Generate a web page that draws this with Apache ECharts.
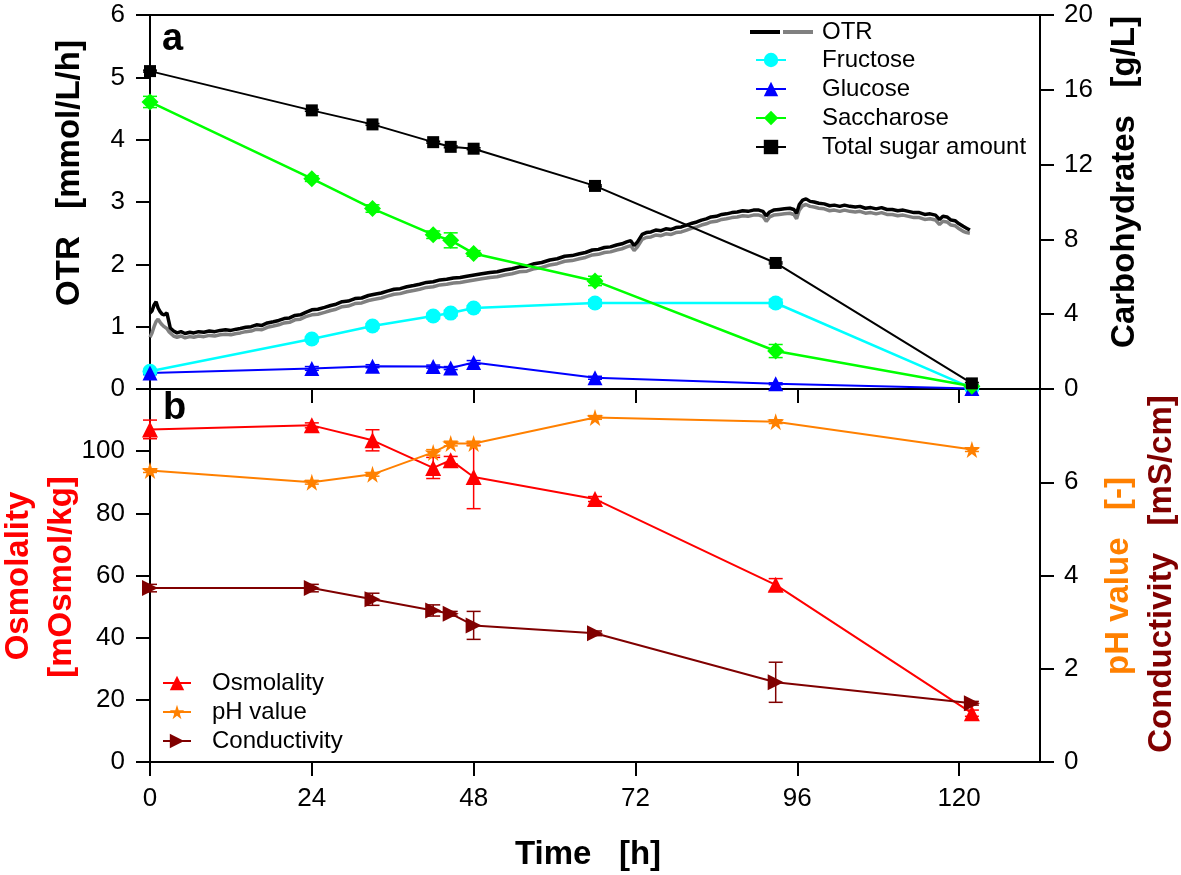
<!DOCTYPE html>
<html>
<head>
<meta charset="utf-8">
<script src="https://cdn.jsdelivr.net/npm/echarts@6/dist/echarts.min.js"></script>
<style>
html,body{margin:0;padding:0;background:#fff;}
#chart{width:1181px;height:875px;}
</style>
</head>
<body>
<div id="chart"></div>
<script>
// ---------- data ----------
const sampleTime = [0, 24, 33, 42, 44.6, 48, 66, 92.8, 121.9];

const fructose        = [0.95, 2.67, 3.37, 3.90, 4.06, 4.33, 4.60, 4.60, 0.05];
const fructoseErr     = [0.10, 0.12, 0.12, 0.15, 0.15, 0.12, 0.18, 0.20, 0.05];
const glucose         = [0.85, 1.10, 1.22, 1.20, 1.12, 1.42, 0.60, 0.28, 0.03];
const glucoseErr      = [0.08, 0.10, 0.08, 0.08, 0.08, 0.10, 0.08, 0.05, 0.02];
const saccharose      = [15.35, 11.25, 9.65, 8.25, 7.95, 7.25, 5.78, 2.03, 0.15];
const saccharoseErr   = [0.30, 0.15, 0.20, 0.20, 0.40, 0.15, 0.25, 0.35, 0.05];
const totalSugar      = [17.0, 14.9, 14.15, 13.2, 12.95, 12.85, 10.86, 6.74, 0.30];
const totalSugarErr   = [0.05, 0.05, 0.05, 0.05, 0.05, 0.05, 0.05, 0.05, 0.05];

const osmolality      = [107, 108.3, 103.5, 94.6, 97.1, 91.7, 84.6, 57.0, 15.7];
const osmolalityErr   = [3.0, 0.8, 3.4, 3.4, 1.2, 10.2, 0.8, 2.0, 1.0];
const phValue         = [6.25, 6.00, 6.17, 6.64, 6.83, 6.83, 7.39, 7.30, 6.70];
const phValueErr      = [0.04, 0.04, 0.04, 0.06, 0.05, 0.05, 0.04, 0.04, 0.04];
const conductivity    = [3.73, 3.73, 3.49, 3.25, 3.18, 2.93, 2.76, 1.71, 1.26];
const conductivityErr = [0.08, 0.08, 0.13, 0.12, 0.05, 0.30, 0.05, 0.43, 0.04];

// OTR online signal [time h, mmol/L/h]
const otrBlack = [[0,1.22],[0.3,1.25],[0.6,1.35],[0.9,1.40],[1.2,1.30],[1.5,1.24],[1.8,1.20],[2.1,1.19],[2.5,1.22],[2.8,1.08],[3.0,0.98],[3.5,0.93],[4.0,0.90],[4.6,0.92],[5.2,0.89],[5.9,0.91],[6.5,0.90],[7.2,0.92],[8.0,0.91],[8.8,0.93],[9.6,0.92],[10.4,0.94],[11.2,0.95],[12.0,0.94],[12.8,0.96],[13.4,0.97],[14.2,0.99],[15.0,1.00],[15.8,1.03],[16.6,1.02],[17.4,1.06],[18.3,1.08],[19.1,1.10],[19.9,1.13],[20.7,1.14],[21.5,1.18],[22.3,1.19],[23.1,1.23],[24.0,1.27],[24.9,1.28],[25.9,1.31],[26.8,1.34],[27.6,1.36],[28.5,1.40],[29.4,1.41],[30.4,1.45],[31.4,1.46],[32.4,1.50],[33.3,1.52],[34.3,1.54],[35.2,1.57],[36.2,1.60],[37.1,1.61],[38.1,1.64],[39.1,1.66],[40.0,1.68],[41.0,1.71],[42.0,1.72],[43.0,1.75],[44.0,1.76],[45.0,1.78],[46.0,1.79],[47.0,1.81],[48.1,1.83],[49.2,1.85],[50.4,1.87],[51.5,1.88],[52.6,1.91],[53.7,1.93],[54.8,1.96],[55.9,1.97],[57.0,2.01],[58.1,2.03],[59.3,2.07],[60.4,2.09],[61.5,2.13],[62.6,2.14],[63.7,2.17],[64.6,2.19],[65.6,2.23],[66.5,2.24],[67.4,2.27],[68.3,2.28],[69.2,2.31],[70.0,2.33],[70.7,2.36],[71.3,2.38],[71.8,2.30],[72.3,2.36],[73.0,2.48],[73.6,2.51],[74.3,2.52],[75.0,2.55],[75.8,2.54],[76.5,2.57],[77.3,2.56],[78.0,2.59],[78.8,2.60],[79.6,2.63],[80.4,2.66],[81.1,2.68],[81.8,2.71],[82.5,2.73],[83.2,2.76],[84.0,2.77],[84.8,2.80],[85.5,2.81],[86.3,2.83],[87.1,2.84],[87.9,2.86],[88.7,2.85],[89.5,2.87],[90.3,2.87],[90.9,2.85],[91.4,2.78],[91.9,2.84],[92.5,2.87],[93.3,2.88],[94.1,2.89],[94.9,2.90],[95.5,2.88],[95.9,2.82],[96.3,2.96],[96.8,3.03],[97.3,3.05],[97.9,3.01],[98.5,3.00],[99.2,2.98],[100.0,2.97],[100.8,2.94],[101.5,2.95],[102.3,2.93],[103.0,2.95],[103.8,2.93],[104.6,2.92],[105.3,2.93],[106.1,2.90],[106.9,2.91],[107.7,2.89],[108.5,2.91],[109.3,2.88],[110.1,2.88],[110.9,2.86],[111.7,2.87],[112.5,2.85],[113.3,2.83],[114.1,2.83],[114.9,2.80],[115.7,2.81],[116.5,2.79],[117.1,2.72],[117.6,2.77],[118.2,2.76],[118.8,2.71],[119.4,2.70],[120.0,2.65],[120.6,2.61],[121.1,2.58],[121.6,2.55]];
const otrGray  = [[0,0.83],[0.3,0.90],[0.6,1.00],[0.9,1.08],[1.2,1.12],[1.5,1.07],[1.8,1.03],[2.1,1.00],[2.5,0.97],[2.8,0.92],[3.0,0.89],[3.5,0.85],[4.0,0.83],[4.6,0.85],[5.2,0.82],[5.9,0.84],[6.5,0.83],[7.2,0.85],[8.0,0.84],[8.8,0.86],[9.6,0.85],[10.4,0.87],[11.2,0.88],[12.0,0.87],[12.8,0.89],[13.4,0.90],[14.2,0.92],[15.0,0.93],[15.8,0.96],[16.6,0.95],[17.4,0.99],[18.3,1.01],[19.1,1.03],[19.9,1.06],[20.7,1.07],[21.5,1.11],[22.3,1.12],[23.1,1.16],[24.0,1.19],[24.9,1.20],[25.9,1.23],[26.8,1.26],[27.6,1.28],[28.5,1.32],[29.4,1.33],[30.4,1.37],[31.4,1.38],[32.4,1.42],[33.3,1.44],[34.3,1.46],[35.2,1.49],[36.2,1.52],[37.1,1.53],[38.1,1.56],[39.1,1.58],[40.0,1.60],[41.0,1.63],[42.0,1.64],[43.0,1.67],[44.0,1.68],[45.0,1.70],[46.0,1.71],[47.0,1.73],[48.1,1.75],[49.2,1.77],[50.4,1.79],[51.5,1.80],[52.6,1.83],[53.7,1.85],[54.8,1.88],[55.9,1.89],[57.0,1.93],[58.1,1.95],[59.3,1.99],[60.4,2.01],[61.5,2.05],[62.6,2.06],[63.7,2.09],[64.6,2.11],[65.6,2.15],[66.5,2.16],[67.4,2.19],[68.3,2.20],[69.2,2.23],[70.0,2.25],[70.7,2.28],[71.3,2.30],[71.8,2.22],[72.3,2.28],[73.0,2.40],[73.6,2.43],[74.3,2.44],[75.0,2.47],[75.8,2.46],[76.5,2.49],[77.3,2.48],[78.0,2.51],[78.8,2.52],[79.6,2.55],[80.4,2.58],[81.1,2.60],[81.8,2.63],[82.5,2.65],[83.2,2.68],[84.0,2.69],[84.8,2.72],[85.5,2.73],[86.3,2.75],[87.1,2.76],[87.9,2.78],[88.7,2.77],[89.5,2.79],[90.3,2.79],[90.9,2.77],[91.4,2.69],[91.9,2.76],[92.5,2.79],[93.3,2.80],[94.1,2.81],[94.9,2.82],[95.5,2.80],[95.9,2.73],[96.3,2.87],[96.8,2.94],[97.3,2.96],[97.9,2.93],[98.5,2.92],[99.2,2.90],[100.0,2.89],[100.8,2.86],[101.5,2.87],[102.3,2.85],[103.0,2.87],[103.8,2.85],[104.6,2.84],[105.3,2.85],[106.1,2.82],[106.9,2.83],[107.7,2.81],[108.5,2.83],[109.3,2.80],[110.1,2.80],[110.9,2.78],[111.7,2.79],[112.5,2.77],[113.3,2.75],[114.1,2.75],[114.9,2.72],[115.7,2.73],[116.5,2.71],[117.1,2.64],[117.6,2.69],[118.2,2.68],[118.8,2.63],[119.4,2.62],[120.0,2.57],[120.6,2.53],[121.1,2.51],[121.6,2.50]];

const xTicks      = [0, 24, 48, 72, 96, 120];
const otrTicks    = [0, 1, 2, 3, 4, 5, 6];
const carbTicks   = [0, 4, 8, 12, 16, 20];
const osmoTicks   = [0, 20, 40, 60, 80, 100];
const rightBTicks = [0, 2, 4, 6];

// ---------- chart ----------
const FONT = '"Liberation Sans", Arial, sans-serif';
const chart = echarts.init(document.getElementById('chart'), null, {renderer: 'canvas'});

const STAR = 'path://M50,0 L61.2,34.5 L97.6,34.5 L68.2,55.9 L79.4,90.5 L50,69.1 L20.6,90.5 L31.8,55.9 L2.4,34.5 L38.8,34.5 Z';

function pairs(vals) { return sampleTime.map((t, i) => [t, vals[i]]); }

function errSeries(vals, errs, color, xi, yi) {
  return {
    type: 'custom', xAxisIndex: xi, yAxisIndex: yi, silent: true, z: 3,
    data: sampleTime.map((t, i) => [t, vals[i] - errs[i], vals[i] + errs[i]]),
    encode: {x: 0, y: [1, 2]},
    renderItem(params, api) {
      const x = api.value(0);
      const a = api.coord([x, api.value(1)]);
      const b = api.coord([x, api.value(2)]);
      const w = 7;
      const st = {stroke: color, lineWidth: 1.5};
      return {type: 'group', children: [
        {type: 'line', shape: {x1: a[0], y1: a[1], x2: b[0], y2: b[1]}, style: st},
        {type: 'line', shape: {x1: a[0] - w, y1: a[1], x2: a[0] + w, y2: a[1]}, style: st},
        {type: 'line', shape: {x1: b[0] - w, y1: b[1], x2: b[0] + w, y2: b[1]}, style: st}
      ]};
    }
  };
}

function pointSeries(name, vals, color, symbol, size, xi, yi, lw, extra) {
  return Object.assign({
    name, type: 'line', xAxisIndex: xi, yAxisIndex: yi, data: pairs(vals),
    symbol, symbolSize: size, showSymbol: true, z: 4,
    lineStyle: {color, width: lw}, itemStyle: {color, borderWidth: 0},
    emphasis: {disabled: true}, animation: false
  }, extra || {});
}

const axisLineStyle = {color: '#000', width: 2};
const tickCommon = {show: true, inside: false, length: 14, lineStyle: {color: '#000', width: 2}};
const labelCommon = {color: '#000', fontFamily: FONT, fontSize: 26};

function xAxisDef(grid, showLabels) {
  return {
    type: 'value', gridIndex: grid, min: 0, max: 132, interval: 24,
    axisLine: {show: true, onZero: false, lineStyle: axisLineStyle},
    axisTick: Object.assign({customValues: xTicks}, tickCommon),
    axisLabel: Object.assign({show: showLabels, margin: 24, customValues: xTicks}, labelCommon),
    splitLine: {show: false}
  };
}
function yAxisDef(grid, pos, max, interval, ticks) {
  return {
    type: 'value', gridIndex: grid, position: pos, min: 0, max, interval,
    axisLine: {show: true, onZero: false, lineStyle: axisLineStyle},
    axisTick: Object.assign({customValues: ticks}, tickCommon),
    axisLabel: Object.assign({margin: pos === 'left' ? 25 : 24, customValues: ticks}, labelCommon),
    splitLine: {show: false}
  };
}

const nameStyle = (text, x, y, color, rot) => ({
  type: 'text', x, y, rotation: rot === undefined ? Math.PI / 2 : rot, silent: true,
  style: {text, fill: color, font: 'bold 33px ' + FONT, align: 'center', verticalAlign: 'middle'}
});

const option = {
  backgroundColor: '#fff',
  animation: false,
  grid: [
    {left: 150, right: 141, top: 15, height: 374, show: true, borderColor: '#000', borderWidth: 2, backgroundColor: 'transparent'},
    {left: 150, right: 141, top: 389, height: 373, show: true, borderColor: '#000', borderWidth: 2, backgroundColor: 'transparent'}
  ],
  xAxis: [xAxisDef(0, false), xAxisDef(1, true)],
  yAxis: [
    yAxisDef(0, 'left', 6, 1, otrTicks),
    yAxisDef(0, 'right', 20, 4, carbTicks),
    yAxisDef(1, 'left', 120, 20, osmoTicks),
    yAxisDef(1, 'right', 8, 2, rightBTicks)
  ],
  legend: [
    {
      data: ['Fructose', 'Glucose', 'Saccharose', 'Total sugar amount'],
      orient: 'vertical', left: 750, top: 43, itemWidth: 30, itemHeight: 18, itemGap: 5,
      align: 'left', selectedMode: false,
      textStyle: {fontFamily: FONT, fontSize: 24, color: '#000', padding: [0, 0, 0, 31], lineHeight: 24}
    },
    {
      data: ['Osmolality', 'pH value', 'Conductivity'],
      orient: 'vertical', left: 157, top: 666, itemWidth: 28, itemHeight: 18, itemGap: 5,
      align: 'left', selectedMode: false,
      textStyle: {fontFamily: FONT, fontSize: 24, color: '#000', padding: [0, 0, 0, 16], lineHeight: 24}
    }
  ],
  series: [
    {name: 'OTR gray', type: 'line', xAxisIndex: 0, yAxisIndex: 0, data: otrGray, showSymbol: false, symbol: 'none',
     lineStyle: {color: '#808080', width: 3.5}, z: 2, emphasis: {disabled: true}},
    {name: 'OTR', type: 'line', xAxisIndex: 0, yAxisIndex: 0, data: otrBlack, showSymbol: false, symbol: 'none',
     lineStyle: {color: '#000000', width: 3.5}, z: 2, emphasis: {disabled: true}},

    errSeries(fructose, fructoseErr, '#00FFFF', 0, 1),
    errSeries(glucose, glucoseErr, '#0000FF', 0, 1),
    errSeries(saccharose, saccharoseErr, '#00FF00', 0, 1),
    errSeries(totalSugar, totalSugarErr, '#000000', 0, 1),
    pointSeries('Fructose', fructose, '#00FFFF', 'circle', 15, 0, 1, 2.5),
    pointSeries('Glucose', glucose, '#0000FF', 'triangle', 15, 0, 1, 2),
    pointSeries('Saccharose', saccharose, '#00FF00', 'diamond', 17, 0, 1, 2.5),
    pointSeries('Total sugar amount', totalSugar, '#000000', 'rect', 12, 0, 1, 2),

    errSeries(osmolality, osmolalityErr, '#FF0000', 1, 2),
    errSeries(phValue, phValueErr, '#FF8000', 1, 3),
    errSeries(conductivity, conductivityErr, '#800000', 1, 3),
    pointSeries('Osmolality', osmolality, '#FF0000', 'triangle', 16, 1, 2, 2),
    pointSeries('pH value', phValue, '#FF8000', STAR, 17, 1, 3, 2),
    pointSeries('Conductivity', conductivity, '#800000', 'triangle', 16, 1, 3, 2, {symbolRotate: -90})
  ],
  graphic: [
    // panel letters
    {type: 'text', x: 162, y: 40, silent: true, style: {text: 'a', fill: '#000', font: 'bold 38px ' + FONT, align: 'left', verticalAlign: 'middle'}},
    {type: 'text', x: 163, y: 409, silent: true, style: {text: 'b', fill: '#000', font: 'bold 38px ' + FONT, align: 'left', verticalAlign: 'middle'}},
    // OTR legend row (two traces)
    {type: 'line', silent: true, shape: {x1: 750, y1: 32, x2: 780, y2: 32}, style: {stroke: '#000', lineWidth: 4}},
    {type: 'line', silent: true, shape: {x1: 783, y1: 32, x2: 813, y2: 32}, style: {stroke: '#808080', lineWidth: 4}},
    {type: 'text', x: 822, y: 32, silent: true, style: {text: 'OTR', fill: '#000', font: '24px ' + FONT, align: 'left', verticalAlign: 'middle'}},
    // axis titles
    nameStyle('OTR   [mmol/L/h]', 70, 173, '#000'),
    nameStyle('Carbohydrates   [g/L]', 1125, 182, '#000'),
    nameStyle('Osmolality', 19, 576, '#FF0000'),
    nameStyle('[mOsmol/kg]', 62, 577, '#FF0000'),
    nameStyle('pH value   [-]', 1119, 576, '#FF8000'),
    nameStyle('Conductivity   [mS/cm]', 1162, 574, '#800000'),
    nameStyle('Time   [h]', 588, 855, '#000', 0)
  ]
};
chart.setOption(option);
</script>
</body>
</html>
